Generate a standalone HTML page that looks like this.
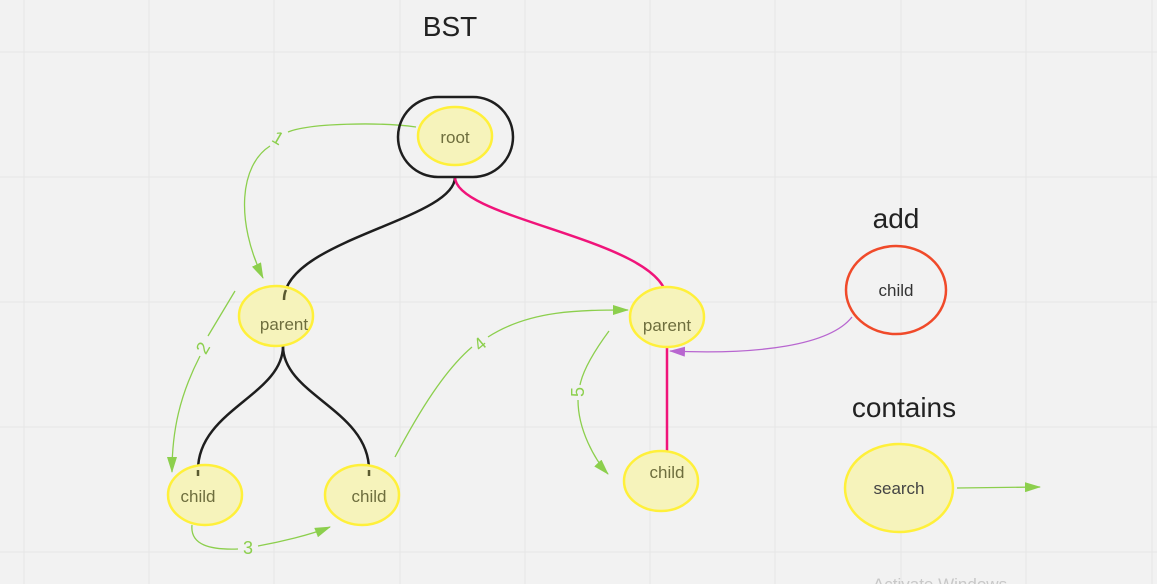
<!DOCTYPE html>
<html><head><style>
body{margin:0;background:#f2f2f2;}
svg{display:block;font-family:"Liberation Sans",sans-serif;}
</style></head><body>
<svg width="1157" height="584" viewBox="0 0 1157 584" xmlns="http://www.w3.org/2000/svg">
<defs>
<marker id="gb" markerWidth="16" markerHeight="10" refX="15" refY="5" orient="auto" markerUnits="userSpaceOnUse"><path d="M0,0 L16,5 L0,10 z" fill="#8ccf4d"/></marker>
<marker id="p" markerWidth="16" markerHeight="10" refX="15" refY="5" orient="auto" markerUnits="userSpaceOnUse"><path d="M0,0 L16,5 L0,10 z" fill="#b866d0"/></marker>
</defs>
<g stroke="#e6e6e6" stroke-width="1">
<line x1="24" y1="0" x2="24" y2="584"/><line x1="149" y1="0" x2="149" y2="584"/><line x1="274" y1="0" x2="274" y2="584"/><line x1="400" y1="0" x2="400" y2="584"/><line x1="525" y1="0" x2="525" y2="584"/><line x1="650" y1="0" x2="650" y2="584"/><line x1="775" y1="0" x2="775" y2="584"/><line x1="901" y1="0" x2="901" y2="584"/><line x1="1026" y1="0" x2="1026" y2="584"/><line x1="1152" y1="0" x2="1152" y2="584"/>
<line x1="0" y1="52" x2="1157" y2="52"/><line x1="0" y1="177" x2="1157" y2="177"/><line x1="0" y1="302" x2="1157" y2="302"/><line x1="0" y1="427" x2="1157" y2="427"/><line x1="0" y1="552" x2="1157" y2="552"/>
</g>
<text x="450" y="36" font-size="28" fill="#222" text-anchor="middle">BST</text>
<text x="896" y="228" font-size="28" fill="#222" text-anchor="middle">add</text>
<text x="904" y="417" font-size="28" fill="#222" text-anchor="middle">contains</text>
<g fill="none" stroke-width="2.5">
<path d="M455,177 C455,220 284,240 284,300" stroke="#1e1e1e"/>
<path d="M283,346 C283,395 198,410 198,470" stroke="#1e1e1e"/>
<path d="M283,346 C283,395 369,410 369,470" stroke="#1e1e1e"/>
<path d="M455,177 C455,220 667,240 667,300" stroke="#f0147a"/>
<path d="M667,346 L667,478" stroke="#f0147a"/>
</g>
<g fill="none" stroke="#8ccf4d" stroke-width="1.3">
<path d="M416,127 C380,122 310,123 288,132 M270,146 C240,165 235,220 263,278" marker-end="url(#gb)"/>
<path d="M235,291 L208,336 M200,356 C180,395 172,430 172,472" marker-end="url(#gb)"/>
<path d="M192,525 C190,545 210,550 238,549 M258,546 C280,542 310,535 330,527" marker-end="url(#gb)"/>
<path d="M395,457 C420,410 445,370 472,347 M488,337 C530,310 580,310 628,310" marker-end="url(#gb)"/>
<path d="M609,331 C595,350 583,370 580,385 M578,400 C578,430 595,460 608,474" marker-end="url(#gb)"/>
<path d="M957,488 L1040,487" marker-end="url(#gb)"/>
</g>
<path d="M852,317 C830,345 760,355 670,351" fill="none" stroke="#b866d0" stroke-width="1.3" marker-end="url(#p)"/>
<g font-size="18" fill="#8ccf4d" text-anchor="middle">
<text x="278" y="144" transform="rotate(30 278 138)">1</text>
<text x="203" y="354" transform="rotate(-60 203 348)">2</text>
<text x="248" y="554">3</text>
<text x="480" y="350" transform="rotate(-40 480 344)">4</text>
<text x="578" y="398" transform="rotate(-90 578 392)">5</text>
</g>
<rect x="398" y="97" width="115" height="80" rx="40" fill="none" stroke="#1e1e1e" stroke-width="2.5"/>
<g fill="#f6f3bb" stroke="#fff03a" stroke-width="2.5">
<ellipse cx="455" cy="136" rx="37" ry="29"/>
<ellipse cx="276" cy="316" rx="37" ry="30"/>
<ellipse cx="205" cy="495" rx="37" ry="30"/>
<ellipse cx="362" cy="495" rx="37" ry="30"/>
<ellipse cx="667" cy="317" rx="37" ry="30"/>
<ellipse cx="661" cy="481" rx="37" ry="30"/>
<ellipse cx="899" cy="488" rx="54" ry="44"/>
</g>
<ellipse cx="896" cy="290" rx="50" ry="44" fill="none" stroke="#f04a2a" stroke-width="2.5"/>
<g stroke="#5a5a30" stroke-width="2.5" fill="none"><path d="M286,290 q-2,4 -2,10"/><path d="M198,470 l0,6"/><path d="M369,470 l0,6"/></g>
<g font-size="17" fill="#6e6e3e" text-anchor="middle">
<text x="455" y="143">root</text>
<text x="284" y="330">parent</text>
<text x="198" y="502">child</text>
<text x="369" y="502">child</text>
<text x="667" y="331">parent</text>
<text x="667" y="478">child</text>
</g>
<text x="896" y="296" font-size="17" fill="#333" text-anchor="middle">child</text>
<text x="899" y="494" font-size="17" fill="#444" text-anchor="middle">search</text>
<text x="940" y="590" font-size="17" fill="#c8c8c8" text-anchor="middle">Activate Windows</text>
</svg>
</body></html>
